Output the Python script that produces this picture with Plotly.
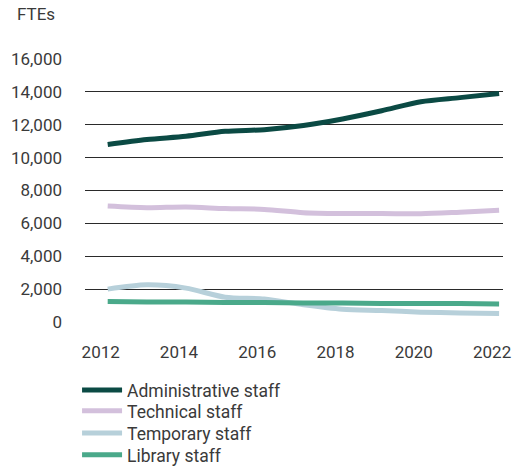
import plotly.graph_objects as go

years = list(range(2012, 2023))
admin = [10800, 11100, 11300, 11600, 11700, 11950, 12350, 12850, 13400, 13650, 13900]
technical = [7050, 6950, 7000, 6900, 6850, 6650, 6600, 6600, 6580, 6680, 6800]
temporary = [2000, 2260, 2060, 1510, 1400, 1050, 780, 700, 600, 550, 520]
library = [1240, 1220, 1210, 1190, 1180, 1160, 1150, 1120, 1120, 1120, 1100]
x_ticks = [2012, 2014, 2016, 2018, 2020, 2022]
y_ticks = list(range(0, 16001, 2000))

series = [
    ("Administrative staff", admin, "#0b4a44"),
    ("Technical staff", technical, "#d3c0dc"),
    ("Temporary staff", temporary, "#b7d0da"),
    ("Library staff", library, "#4aa98a"),
]

txt = "#3a3a3a"
legend_ids = ["legend", "legend2", "legend3", "legend4"]
legend_y = [-0.2586, -0.3384, -0.4221, -0.5057]

fig = go.Figure()
for (name, vals, color), lid in zip(series, legend_ids):
    fig.add_trace(go.Scatter(x=years, y=vals, name=name, mode="lines", legend=lid,
                             line=dict(color=color, width=5, shape="spline", smoothing=0.8)))

legend_layout = {}
for lid, ly in zip(legend_ids, legend_y):
    legend_layout[lid] = dict(orientation="v", x=-0.019, xanchor="left", y=ly, yanchor="middle",
                              font=dict(size=17.5, color=txt), itemwidth=40,
                              bgcolor="rgba(0,0,0,0)")

fig.update_layout(
    width=520, height=469,
    margin=dict(l=85, r=17, t=59, b=147, autoexpand=False),
    plot_bgcolor="white", paper_bgcolor="white",
    font=dict(family="Roboto, sans-serif", size=17, color=txt),
    showlegend=True,
    xaxis=dict(range=[2011.42, 2022.10], tickvals=x_ticks, ticklabelshift=-7,
               showgrid=False, zeroline=False, showline=False, ticks="", ticklabelstandoff=18),
    yaxis=dict(range=[0, 16000], tickvals=y_ticks, tickformat=",",
               showgrid=True, gridcolor="#2a2a2a", gridwidth=1, zeroline=False,
               showline=False, ticks="", ticklabelstandoff=22),
    annotations=[dict(text="FTEs", xref="paper", yref="paper", x=-0.1675, y=1.171,
                      xanchor="left", yanchor="middle", showarrow=False,
                      font=dict(size=17, color=txt))],
    **legend_layout,
)
fig.write_html("out.html", config={"displayModeBar": False},
               post_script="document.body.style.margin='0';")
